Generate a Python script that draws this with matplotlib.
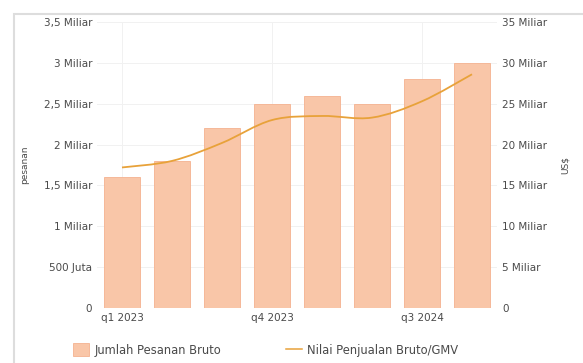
import matplotlib
matplotlib.use("Agg")
import matplotlib.pyplot as plt
from matplotlib.path import Path
from matplotlib.patches import PathPatch, Rectangle
from matplotlib.lines import Line2D
import numpy as np

quarters = ["q1 2023", "q2 2023", "q3 2023", "q4 2023", "q1 2024", "q2 2024", "q3 2024", "q4 2024"]
orders = [1.6, 1.8, 2.2, 2.5, 2.6, 2.5, 2.8, 3.0]          # Miliar pesanan
gmv = [17.2, 18.0, 20.2, 23.0, 23.5, 23.3, 25.3, 28.6]      # Miliar US$
left_ticks = [0, 0.5, 1, 1.5, 2, 2.5, 3, 3.5]
left_labels = ["0", "500 Juta", "1 Miliar", "1,5 Miliar", "2 Miliar", "2,5 Miliar", "3 Miliar", "3,5 Miliar"]
right_ticks = [0, 5, 10, 15, 20, 25, 30, 35]
right_labels = ["0", "5 Miliar", "10 Miliar", "15 Miliar", "20 Miliar", "25 Miliar", "30 Miliar", "35 Miliar"]
shown_x = [0, 3, 6]

bar_color = "#F9C6A8"
bar_edge = "#F4B290"
line_color = "#E8A23A"
text_color = "#4a4a4a"
fs = 7.5

fig = plt.figure(figsize=(5.83, 3.63), dpi=100)
fig.patches.append(Rectangle((14/583, -0.01), 1.0, 1 - 14/363 + 0.01, transform=fig.transFigure,
                             fill=False, edgecolor="#DDDDDD", linewidth=1.5))

ax = fig.add_axes([97/583, 55/363, 400/583, 286/363])
x = np.arange(len(quarters))
ax.bar(x, orders, width=0.72, color=bar_color, edgecolor=bar_edge, linewidth=0.6, zorder=2)
ax.set_xlim(-0.5, len(quarters) - 0.5)
ax.set_ylim(0, 3.5)
ax.set_yticks(left_ticks)
ax.set_yticklabels(left_labels)
ax.set_xticks([x[i] for i in shown_x])
ax.set_xticklabels([quarters[i] for i in shown_x])
ax.tick_params(axis="both", length=0, labelsize=fs, colors=text_color, pad=3.6)
ax.grid(True, color="#F1F1F1", linewidth=0.7, zorder=0)
for s in ax.spines.values():
    s.set_visible(False)
ax.set_ylabel("pesanan", fontsize=6.5, color=text_color, labelpad=10)

ax2 = ax.twinx()
ax2.set_ylim(0, 35)
ax2.set_yticks(right_ticks)
ax2.set_yticklabels(right_labels)
ax2.tick_params(axis="y", length=0, labelsize=fs, colors=text_color, pad=3.6)
for s in ax2.spines.values():
    s.set_visible(False)
ax2.set_ylabel("US$", fontsize=6.5, color=text_color, labelpad=10)

# smooth curve (Catmull-Rom as cubic Bezier) through the data points
pts = np.column_stack([x, gmv]).astype(float)
verts = [tuple(pts[0])]
codes = [Path.MOVETO]
n = len(pts)
for i in range(n - 1):
    p0 = pts[i - 1] if i > 0 else pts[i]
    p1 = pts[i]
    p2 = pts[i + 1]
    p3 = pts[i + 2] if i + 2 < n else pts[i + 1]
    c1 = p1 + (p2 - p0) / 6.0
    c2 = p2 - (p3 - p1) / 6.0
    verts += [tuple(c1), tuple(c2), tuple(p2)]
    codes += [Path.CURVE4, Path.CURVE4, Path.CURVE4]
ax2.add_patch(PathPatch(Path(verts, codes), fill=False, edgecolor=line_color, linewidth=1.3, zorder=3))

handles = [Rectangle((0, 0), 1, 1, facecolor=bar_color, edgecolor=bar_edge, linewidth=0.6),
           Line2D([0], [0], color=line_color, linewidth=1.1)]
fig.legend(handles, ["Jumlah Pesanan Bruto", "Nilai Penjualan Bruto/GMV"], loc="center left",
           bbox_to_anchor=(73/583, 13/363), ncol=2, frameon=False, fontsize=8.3,
           borderpad=0, borderaxespad=0, handlelength=1.4, handleheight=1.3,
           handletextpad=0.45, columnspacing=5.6, labelcolor=text_color)

fig.savefig("out.png", dpi=100)
